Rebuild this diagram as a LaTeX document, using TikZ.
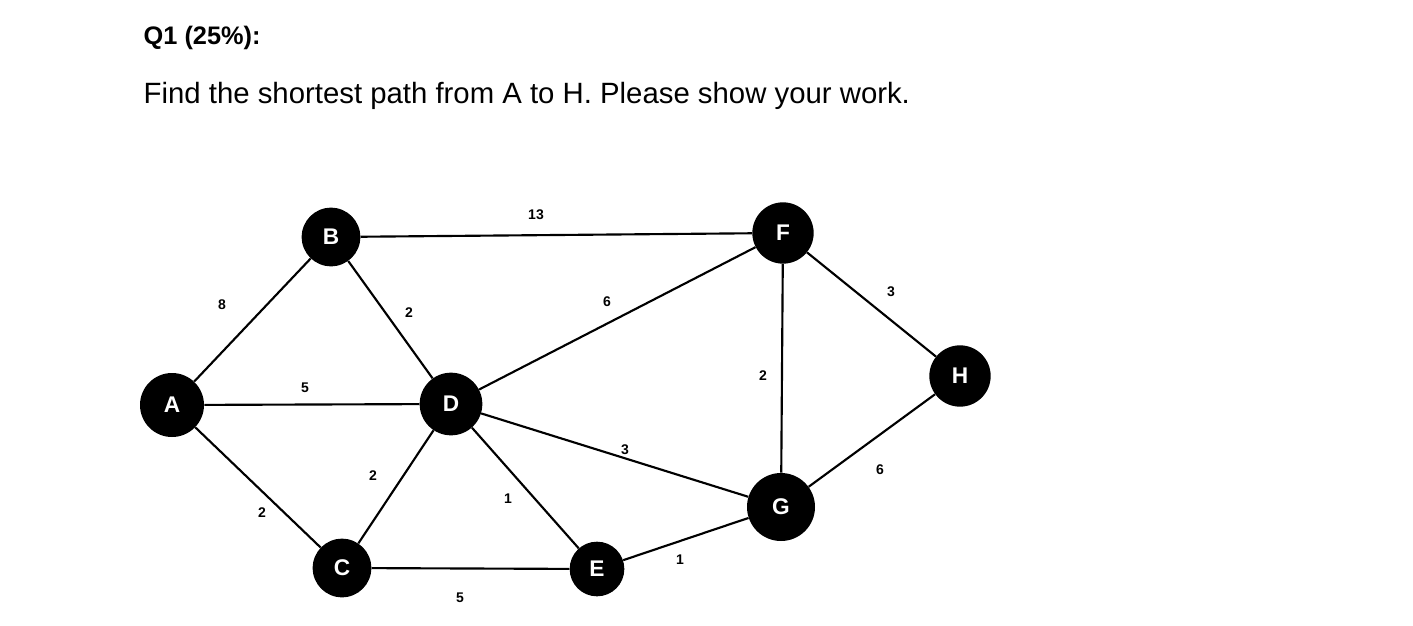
\documentclass[tikz,border=0pt]{standalone}
\usepackage{fontspec}
\setmainfont{Liberation Sans}
\begin{document}
\begin{tikzpicture}[x=0.75pt,y=-0.75pt,
  v/.style={circle,fill=black,text=white,font=\bfseries\fontsize{17}{17}\selectfont,inner sep=0pt},
  w/.style={font=\bfseries\fontsize{10.5}{11}\selectfont,inner sep=0pt},
  e/.style={line width=1.6pt}]
\useasboundingbox (0,0) rectangle (1413,625);
\node[anchor=west,font=\bfseries\fontsize{19}{20}\selectfont] (t1) at (139,38) {Q1 (25\%):};
\node[anchor=west,font=\fontsize{22}{24}\selectfont] (t2) at (139,96) {Find the shortest path from A to H. Please show your work.};
\node[v,minimum size=48pt] (A) at (172,405) {A};
\node[v,minimum size=44pt] (B) at (331,237) {B};
\node[v,minimum size=44pt] (C) at (342,568) {C};
\node[v,minimum size=47pt] (D) at (451,404) {D};
\node[v,minimum size=41pt] (E) at (597,569) {E};
\node[v,minimum size=46pt] (F) at (783,233) {F};
\node[v,minimum size=51pt] (G) at (781,507) {G};
\node[v,minimum size=46pt] (H) at (960,376) {H};
\draw[e] (B)--(F) (A)--(B) (B)--(D) (D)--(F) (F)--(H) (F)--(G) (A)--(D) (D)--(G) (G)--(H) (C)--(D) (D)--(E) (A)--(C) (E)--(G) (C)--(E);
\node[w] (l1) at (536,215) {13};
\node[w] (l2) at (222,305) {8};
\node[w] (l3) at (409,313) {2};
\node[w] (l4) at (607,302) {6};
\node[w] (l5) at (891,292) {3};
\node[w] (l6) at (763,376) {2};
\node[w] (l7) at (305,388) {5};
\node[w] (l8) at (625,450) {3};
\node[w] (l9) at (880,470) {6};
\node[w] (l10) at (373,476) {2};
\node[w] (l11) at (508,499) {1};
\node[w] (l12) at (262,513) {2};
\node[w] (l13) at (680,560) {1};
\node[w] (l14) at (460,598) {5};
\end{tikzpicture}
\end{document}
